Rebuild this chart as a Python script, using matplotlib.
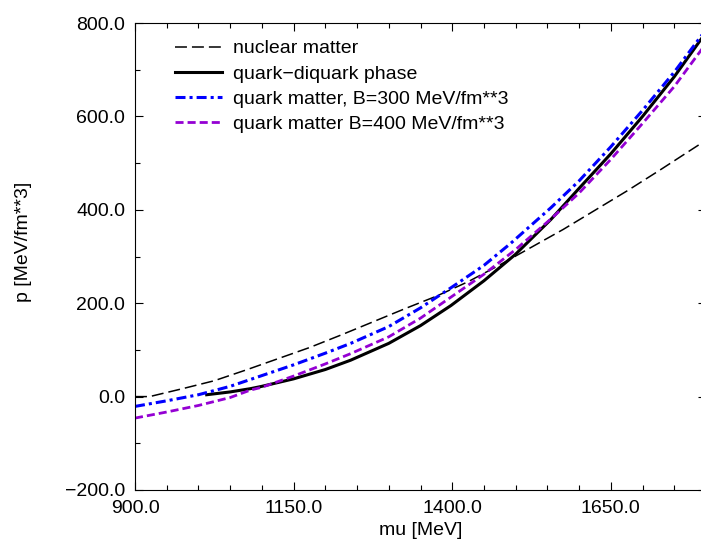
import numpy as np
import matplotlib
matplotlib.use("Agg")
import matplotlib.pyplot as plt
from matplotlib.ticker import MultipleLocator, FuncFormatter

# data (mu in MeV, p in MeV/fm**3)
# *******************
mu_nuc = [900, 923, 975, 1025, 1075, 1125, 1175, 1225, 1275, 1325, 1375, 1425,
          1475, 1525, 1575, 1625, 1675, 1725, 1800]
p_nuc = [0, 0, 17, 34, 57, 81, 105, 132, 160, 188, 215, 246,
         282, 320, 358, 399, 440, 483, 549]

mu_qdq = [1013, 1050, 1082, 1100, 1150, 1200, 1240, 1300, 1350, 1398, 1450, 1500,
          1556, 1600, 1650, 1700, 1750, 1800]
p_qdq = [4, 10, 17, 22, 38, 58, 78, 114, 152, 195, 248, 305,
         380, 446, 520, 600, 685, 780]

mu_b300 = [900, 950, 1000, 1050, 1100, 1150, 1200, 1240, 1300, 1350, 1398,
           1450, 1492, 1556, 1600, 1650, 1700, 1750, 1800]
p_b300 = [-21, -9, 4, 22, 45, 68, 93, 114, 150, 190, 233,
          281, 328, 405, 462, 535, 613, 695, 786]

mu_b400 = [900, 950, 1000, 1050, 1082, 1100, 1150, 1200, 1240, 1300, 1350, 1398,
           1450, 1500, 1556, 1600, 1650, 1700, 1750, 1800]
p_b400 = [-46, -33, -19, -2, 14, 20, 44, 70, 92, 128, 168, 213,
          262, 315, 381, 436, 508, 585, 664, 756]

labels = ['nuclear matter', 'quark\u2212diquark phase',
          'quark matter, B=300 MeV/fm**3', 'quark matter B=400 MeV/fm**3']

xticks = [900, 1150, 1400, 1650]

# style
# *******************
plt.rcParams['font.family'] = ['Liberation Sans', 'DejaVu Sans']
plt.rcParams['lines.scale_dashes'] = False

fig = plt.figure(figsize=(7.01, 5.46), dpi=100)
ax = fig.add_axes([135/701, 56/546, 571/701, 467/546])

ax.plot(mu_nuc, p_nuc, color='black', lw=1.1, dashes=(8.6, 3.6), label=labels[0])
ax.plot(mu_qdq, p_qdq, color='black', lw=2.2, label=labels[1])
ax.plot(mu_b300, p_b300, color='#0000ff', lw=2.2, dashes=(7.2, 2.9, 2.2, 2.9), label=labels[2])
ax.plot(mu_b400, p_b400, color='#9400d3', lw=2.0, dashes=(5.8, 2.9), label=labels[3])

fmt = FuncFormatter(lambda v, pos: ('%.1f' % v).replace('-', '\u2212'))

ax.set_xlim(900, 1800)
ax.set_ylim(-200, 800)
ax.set_xticks(xticks)
ax.xaxis.set_minor_locator(MultipleLocator(50))
ax.yaxis.set_major_locator(MultipleLocator(200))
ax.yaxis.set_minor_locator(MultipleLocator(100))
ax.xaxis.set_major_formatter(fmt)
ax.yaxis.set_major_formatter(fmt)
ax.tick_params(which='both', direction='in', top=True, right=True, labelsize=14, width=0.8)
ax.tick_params(which='major', length=6, pad=7)
ax.tick_params(which='minor', length=3.5)
for s in ax.spines.values():
    s.set_linewidth(0.8)

ax.set_xlabel('mu [MeV]', fontsize=14, labelpad=4)
ax.set_ylabel('p [MeV/fm**3]', fontsize=14)
ax.yaxis.set_label_coords(-0.180, 0.531)

ax.legend(loc='upper left', bbox_to_anchor=(0.07, 0.964), frameon=False, fontsize=14,
          handlelength=2.4, handletextpad=0.6, labelspacing=0.39, borderpad=0, borderaxespad=0)

fig.savefig('out.png', dpi=100)
